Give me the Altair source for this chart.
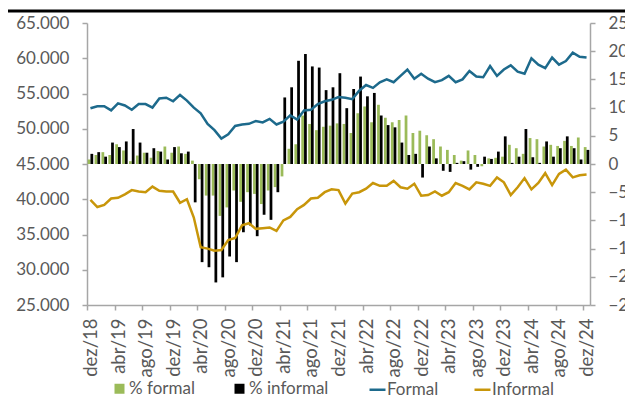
import altair as alt
import pandas as pd

month_names = ["jan", "fev", "mar", "abr", "mai", "jun", "jul", "ago", "set", "out", "nov", "dez"]
months = ["dez/18"] + [f"{m}/{y}" for y in range(19, 25) for m in month_names]
tick_labels = months[::4]

formal = [52900, 53200, 53200, 52600, 53600, 53300, 52700, 53500, 53500, 53000,
          54300, 54400, 53900, 54800, 54000, 53000, 52200, 50700, 49800, 48600,
          49200, 50400, 50600, 50700, 51100, 50900, 51400, 50600, 51000, 51900,
          51300, 52600, 52700, 53500, 53900, 54100, 54500, 54400, 54200, 55400,
          56200, 55800, 56600, 57000, 56600, 57500, 58400, 57100, 57800, 57100,
          56600, 56900, 57500, 56600, 57000, 58200, 57400, 57300, 58900, 57500,
          58400, 59000, 58100, 57800, 60000, 59100, 58600, 60100, 59100, 59600,
          60800, 60200, 60100]

informal = [39900, 38900, 39200, 40100, 40200, 40700, 41300, 41100, 41000, 41800,
            41200, 41100, 41100, 39500, 40000, 37400, 33200, 33000, 32700, 32800,
            34200, 34500, 36300, 36600, 35800, 35900, 36000, 35500, 37000, 37500,
            38600, 39200, 40100, 40200, 41000, 41400, 41300, 39400, 40800, 41000,
            41500, 42300, 41900, 41900, 42600, 41700, 41500, 42200, 40500, 40600,
            41100, 40500, 41000, 42300, 41900, 41400, 42400, 42200, 41900, 43100,
            42400, 40600, 41700, 43000, 41400, 42300, 43700, 42000, 43600, 44200,
            43100, 43400, 43500]

pct_formal = [0.8, 1.6, 2.1, 1.6, 3.5, 2.4, 0.5, 1.5, 2.0, 1.1,
              2.3, 3.1, 2.0, 3.1, 1.8, 0.6, -2.7, -5.6, -5.6, -9.2,
              -7.7, -4.7, -6.7, -5.0, -5.3, -7.1, -4.7, -4.1, -2.2, 2.7,
              3.5, 8.6, 7.1, 6.0, 6.6, 6.8, 7.2, 7.1, 5.5, 9.0,
              10.2, 7.4, 10.5, 8.2, 7.4, 7.8, 8.6, 5.5, 5.9, 5.1,
              4.4, 3.1, 2.5, 1.6, 0.6, 2.4, 1.6, -0.4, 1.0, 1.1,
              1.3, 3.4, 2.8, 1.8, 4.6, 4.4, 3.1, 3.4, 3.2, 4.1,
              3.2, 4.7, 3.0]

pct_informal = [1.8, 2.1, 1.3, 3.8, 3.0, 4.0, 6.2, 3.8, 2.0, 2.8,
                2.2, 0.8, 3.0, 1.9, 2.2, -6.8, -17.4, -18.3, -21.0, -20.1,
                -16.4, -17.4, -12.1, -10.9, -12.8, -9.0, -9.9, -5.0, 11.8, 13.6,
                18.3, 19.5, 17.3, 17.1, 13.1, 13.6, 16.1, 9.9, 13.3, 15.5,
                12.0, 12.6, 8.6, 6.9, 6.5, 3.8, 1.6, 1.8, -2.4, 3.1,
                1.0, -1.2, -1.4, 0.2, 0.5, -1.0, -0.5, 1.3, 0.9, 2.2,
                4.9, 0.2, 1.3, 6.2, 1.2, 0.2, 4.0, 1.3, 2.8, 4.9,
                2.8, 0.8, 2.5]

bar_series = ["% formal", "% informal"]
bar_colors = ["#9bbb59", "#000000"]
line_series = ["Formal", "Informal"]
line_colors = ["#1d6a8c", "#c8960a"]

left_ticks = list(range(25000, 65001, 5000))
right_ticks = list(range(-25, 26, 5))

n = len(months)
bars_df = pd.DataFrame({
    "month": months * 2,
    "series": [bar_series[0]] * n + [bar_series[1]] * n,
    "value": pct_formal + pct_informal,
})
lines_df = pd.DataFrame({
    "month": months * 2,
    "series": [line_series[0]] * n + [line_series[1]] * n,
    "value": formal + informal,
})

x_enc = alt.X(
    "month:N",
    sort=months,
    title=None,
    scale=alt.Scale(paddingInner=0.2, paddingOuter=0.1),
    axis=alt.Axis(
        values=tick_labels,
        labelAngle=270,
        labelAlign="right",
        labelBaseline="middle",
        labelPadding=8,
        labelFontSize=18.5,
        tickSize=5,
        tickOffset=-3.45,
        labelOffset=3.45,
    ),
)

bars = alt.Chart(bars_df).mark_bar().encode(
    x=x_enc,
    xOffset=alt.XOffset("series:N", sort=bar_series,
                        scale=alt.Scale(paddingInner=0, paddingOuter=0)),
    y=alt.Y(
        "value:Q",
        title=None,
        scale=alt.Scale(domain=[-25, 25], nice=False, zero=False),
        axis=alt.Axis(orient="right", values=right_ticks, format="d",
                      tickSize=5, labelPadding=13),
    ),
    color=alt.Color(
        "series:N",
        sort=bar_series,
        scale=alt.Scale(domain=bar_series, range=bar_colors),
        legend=alt.Legend(
            title=None, orient="none", legendX=24, legendY=357,
            direction="horizontal", symbolType="square", symbolSize=100,
            symbolStrokeWidth=0, columnPadding=36, labelOffset=1, padding=0,
        ),
    ),
)

lines = alt.Chart(lines_df).mark_line(strokeWidth=2.5).encode(
    x=x_enc,
    y=alt.Y(
        "value:Q",
        title=None,
        scale=alt.Scale(domain=[25000, 65000], nice=False, zero=False),
        axis=alt.Axis(orient="left", values=left_ticks,
                      labelExpr="replace(format(datum.value, ',d'), ',', '.')",
                      tickSize=5, labelPadding=13),
    ),
    color=alt.Color(
        "series:N",
        sort=line_series,
        scale=alt.Scale(domain=line_series, range=line_colors),
        legend=alt.Legend(
            title=None, orient="none", legendX=281, legendY=357,
            direction="horizontal", symbolType="stroke", symbolSize=256,
            symbolStrokeWidth=2.5, columnPadding=30, labelOffset=0, padding=0,
        ),
    ),
)

top_rule = alt.Chart(pd.DataFrame({"r": [0]})).mark_rule(
    color="black", strokeWidth=3
).encode(x=alt.value(-79), x2=alt.value(540), y=alt.value(-12))

chart = (
    alt.layer(bars, lines, top_rule)
    .resolve_scale(y="independent", color="independent")
    .properties(
        width=503,
        height=282,
        autosize=alt.AutoSizeParams(type="none"),
        padding={"left": 79, "top": 15, "right": 35, "bottom": 90},
    )
    .configure_view(stroke=None)
    .configure_axis(
        labelFont="Lato", labelFontSize=17, labelColor="#595959",
        domainColor="#a6a6a6", tickColor="#a6a6a6", domainWidth=1.5,
        tickWidth=1.5, grid=False,
    )
    .configure_legend(labelFont="Lato", labelFontSize=17, labelColor="#595959")
)

chart.save("out.html", embed_options={"renderer": "svg", "actions": False})
